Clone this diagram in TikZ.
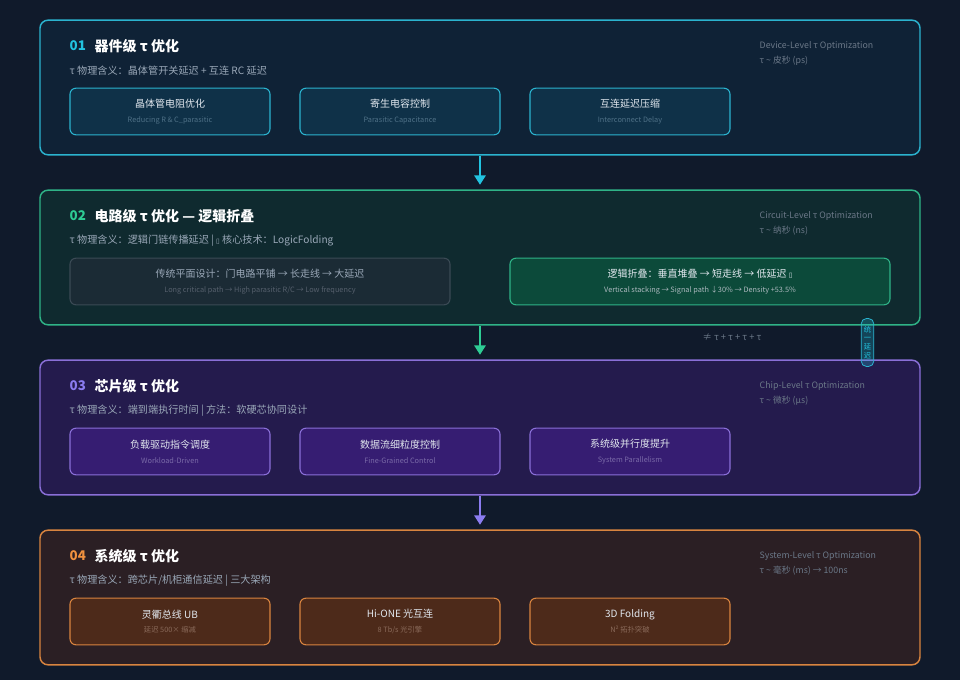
\documentclass[tikz,border=0pt]{standalone}
\usepackage{fontspec}
\setmainfont{Noto Sans CJK SC}
\newfontfamily\symfont{DejaVu Sans}
\usepackage{xcolor}
\usepackage{tikz}
\usetikzlibrary{positioning, arrows.meta}
\definecolor{bgnavy}{HTML}{101A2B}
\definecolor{devfill}{HTML}{0F2236}
\definecolor{devline}{HTML}{2BB3CF}
\definecolor{devnum}{HTML}{22C3E0}
\definecolor{devcard}{HTML}{0F3148}
\definecolor{devsub}{HTML}{4F7187}
\definecolor{cirfill}{HTML}{0F2A2F}
\definecolor{cirline}{HTML}{2FB387}
\definecolor{cirnum}{HTML}{2ECC94}
\definecolor{oldcard}{HTML}{1B2B35}
\definecolor{oldline}{HTML}{3B4A55}
\definecolor{newcard}{HTML}{0C4A3A}
\definecolor{chipfill}{HTML}{241B4D}
\definecolor{chipline}{HTML}{8A6FD8}
\definecolor{chipnum}{HTML}{8B7CF0}
\definecolor{chipcard}{HTML}{361D72}
\definecolor{chipsub}{HTML}{7A6AA8}
\definecolor{sysfill}{HTML}{2B1F24}
\definecolor{sysline}{HTML}{D9843F}
\definecolor{sysnum}{HTML}{F0913F}
\definecolor{syscard}{HTML}{4D2A1A}
\definecolor{syssub}{HTML}{8A6A5A}
\definecolor{cardtext}{HTML}{E2E8EF}
\definecolor{meangray}{HTML}{9AA8B8}
\definecolor{taggray}{HTML}{6B7888}
\newcommand{\subline}[2]{{\fontsize{5.5}{6.5}\selectfont\color{#1}#2}}

\begin{document}
\begin{tikzpicture}[
            x=0.75pt, y=-0.75pt,
            panel/.style={
                draw,
                rectangle,
                rounded corners=6pt,
                line width=1.1pt,
                minimum width=660pt,
                minimum height=101pt
            },
            card/.style={
                draw,
                rectangle,
                rounded corners=4.5pt,
                line width=0.8pt,
                minimum width=150pt,
                minimum height=35pt,
                align=center,
                text=cardtext,
                font=\fontsize{7.5}{9}\selectfont
            },
            widecard/.style={card, minimum width=285pt},
            num/.style={anchor=west, font=\bfseries\fontsize{10}{12}\selectfont},
            head/.style={anchor=west, text=white, font=\bfseries\fontsize{10.5}{12}\selectfont},
            meaning/.style={anchor=west, text=meangray, font=\fontsize{7.6}{9}\selectfont},
            tag/.style={anchor=west, text=taggray, font=\fontsize{6.6}{8}\selectfont},
            flow/.style={-{Triangle[length=7pt,width=8.5pt]}, line width=1.3pt, shorten >=3.5pt}
        ]

        \fill[bgnavy] (0,0) rectangle (960,680);

        % 01 device level
        \node[panel, draw=devline, fill=devfill] (dev) at (480,87.5) {};
        \node[num, text=devnum] (devno) at (65,46) {01};
        \node[head] (devhead) at (90,46) {器件级 τ 优化};
        \node[meaning] (devmean) at (65,71) {τ 物理含义：晶体管开关延迟 + 互连 RC 延迟};
        \node[tag] (devtag) at (755,46) {Device-Level τ Optimization};
        \node[tag] (devtime) at (755,61) {τ \textasciitilde{} 皮秒 (ps)};
        \node[card, draw=devline, fill=devcard] (devr) at (170,111.5) {晶体管电阻优化\\[2pt]\subline{devsub}{Reducing R \& C\_parasitic}};
        \node[card, draw=devline, fill=devcard] (devc) at (400,111.5) {寄生电容控制\\[2pt]\subline{devsub}{Parasitic Capacitance}};
        \node[card, draw=devline, fill=devcard] (devi) at (630,111.5) {互连延迟压缩\\[2pt]\subline{devsub}{Interconnect Delay}};

        % 02 circuit level
        \node[panel, draw=cirline, fill=cirfill] (cir) at (480,257.5) {};
        \node[num, text=cirnum] (cirno) at (65,216) {02};
        \node[head] (cirhead) at (90,216) {电路级 τ 优化 — 逻辑折叠};
        \node[meaning] (cirmean) at (65,241) {τ 物理含义：逻辑门链传播延迟 | {\symfont\fontsize{5}{6}\selectfont ▯} 核心技术：LogicFolding};
        \node[tag] (cirtag) at (755,216) {Circuit-Level τ Optimization};
        \node[tag] (cirtime) at (755,231) {τ \textasciitilde{} 纳秒 (ns)};
        \node[widecard, draw=oldline, fill=oldcard, text=meangray] (flat) at (260,281.5) {传统平面设计：门电路平铺 → 长走线 → 大延迟\\[2pt]\subline{taggray!80!black}{Long critical path → High parasitic R/C → Low frequency}};
        \node[widecard, draw=cirline, fill=newcard] (fold) at (700,281.5) {逻辑折叠：垂直堆叠 → 短走线 → 低延迟 {\symfont\fontsize{5}{6}\selectfont ▯}\\[2pt]\subline{cardtext!75!cirfill}{Vertical stacking → Signal path ↓30\% → Density +53.5\%}};

        % 03 chip level
        \node[panel, draw=chipline, fill=chipfill] (chip) at (480,427.5) {};
        \node[num, text=chipnum] (chipno) at (65,386) {03};
        \node[head] (chiphead) at (90,386) {芯片级 τ 优化};
        \node[meaning] (chipmean) at (65,411) {τ 物理含义：端到端执行时间 | 方法：软硬芯协同设计};
        \node[tag] (chiptag) at (755,386) {Chip-Level τ Optimization};
        \node[tag] (chiptime) at (755,401) {τ \textasciitilde{} 微秒 (μs)};
        \node[card, draw=chipline, fill=chipcard] (chipw) at (170,451.5) {负载驱动指令调度\\[2pt]\subline{chipsub}{Workload-Driven}};
        \node[card, draw=chipline, fill=chipcard] (chipf) at (400,451.5) {数据流细粒度控制\\[2pt]\subline{chipsub}{Fine-Grained Control}};
        \node[card, draw=chipline, fill=chipcard] (chipp) at (630,451.5) {系统级并行度提升\\[2pt]\subline{chipsub}{System Parallelism}};

        % 04 system level
        \node[panel, draw=sysline, fill=sysfill] (sys) at (480,597.5) {};
        \node[num, text=sysnum] (sysno) at (65,556) {04};
        \node[head] (syshead) at (90,556) {系统级 τ 优化};
        \node[meaning] (sysmean) at (65,581) {τ 物理含义：跨芯片/机柜通信延迟 | 三大架构};
        \node[tag] (systag) at (755,556) {System-Level τ Optimization};
        \node[tag] (systime) at (755,571) {τ \textasciitilde{} 毫秒 (ms) → 100ns};
        \node[card, draw=sysline, fill=syscard] (sysub) at (170,621.5) {灵衢总线 UB\\[2pt]\subline{syssub}{延迟 500× 缩减}};
        \node[card, draw=sysline, fill=syscard] (syshi) at (400,621.5) {Hi-ONE 光互连\\[2pt]\subline{syssub}{8 Tb/s 光引擎}};
        \node[card, draw=sysline, fill=syscard] (sys3d) at (630,621.5) {3D Folding\\[2pt]\subline{syssub}{N² 拓扑突破}};

        % flow between levels
        \draw[flow, devnum] (dev) -- (cir);
        \draw[flow, cirnum] (cir) -- (chip);
        \draw[flow, chipnum] (chip) -- (sys);

        \node[text=taggray, font=\fontsize{7}{8}\selectfont] (sumtau) at (732,337) {≠ τ + τ + τ + τ};
        \node[draw=devline, fill=devnum, fill opacity=0.25, text opacity=1, text=devnum,
              rounded corners=4pt, line width=0.6pt, minimum width=9.5pt, minimum height=36pt,
              inner sep=1pt, align=center, font=\fontsize{5.5}{6.6}\selectfont] (unify) at (867.5,342.5) {统\\一\\延\\迟};
        \end{tikzpicture}
\end{document}
